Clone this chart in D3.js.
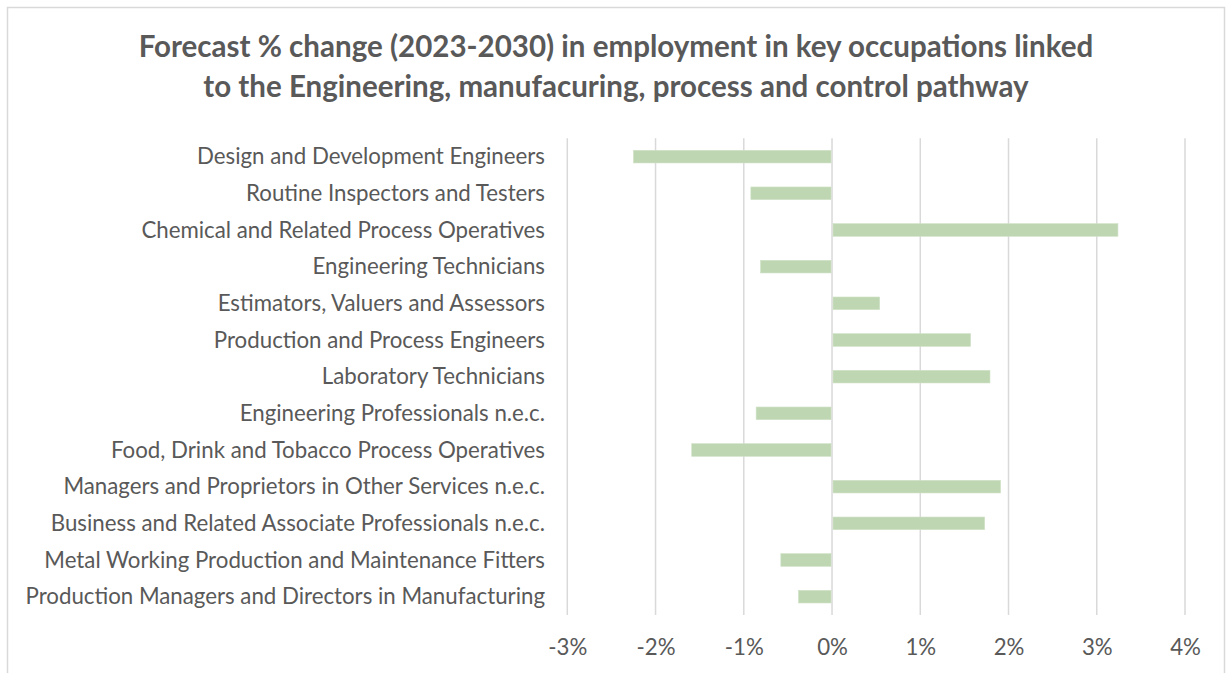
<!DOCTYPE html>
<html>
<head>
<meta charset="utf-8">
<script src="https://cdn.jsdelivr.net/npm/d3@7"></script>
<style>
  html, body { margin: 0; padding: 0; background: #ffffff; }
  svg { display: block; font-family: Lato, "Open Sans", sans-serif; }
</style>
</head>
<body>
<svg id="chart" width="1226" height="673"></svg>
<script>
const titleLines = [
  "Forecast % change (2023-2030) in employment in key occupations linked",
  "to the Engineering, manufacuring, process and control pathway"
];
const categories = [
  "Design and Development Engineers",
  "Routine Inspectors and Testers",
  "Chemical and Related Process Operatives",
  "Engineering Technicians",
  "Estimators, Valuers and Assessors",
  "Production and Process Engineers",
  "Laboratory Technicians",
  "Engineering Professionals n.e.c.",
  "Food, Drink and Tobacco Process Operatives",
  "Managers and Proprietors in Other Services n.e.c.",
  "Business and Related Associate Professionals n.e.c.",
  "Metal Working Production and Maintenance Fitters",
  "Production Managers and Directors in Manufacturing"
];
const values = [-2.25, -0.92, 3.24, -0.81, 0.54, 1.57, 1.79, -0.86, -1.59, 1.91, 1.73, -0.58, -0.38];
const tickValues = [-3, -2, -1, 0, 1, 2, 3, 4];

const svg = d3.select("#chart");
const textColor = "#595959";
const gridColor = "#d9d9d9";
const barColor = "#bfd6b3";

// chart border
svg.append("rect")
  .attr("x", 7.5).attr("y", 7.5)
  .attr("width", 1217).attr("height", 700)
  .attr("fill", "#ffffff")
  .attr("stroke", gridColor).attr("stroke-width", 1.5);

const plot = { left: 567.3, right: 1185, top: 138.3, bottom: 615 };

const x = d3.scaleLinear().domain([-3, 4]).range([plot.left, plot.right]);
const y = d3.scaleBand().domain(categories).range([plot.top, plot.bottom])
  .paddingInner(0.655).paddingOuter(0.3275);

// gridlines
svg.append("g").selectAll("line").data(tickValues).join("line")
  .attr("x1", d => x(d)).attr("x2", d => x(d))
  .attr("y1", plot.top).attr("y2", plot.bottom)
  .attr("stroke", gridColor).attr("stroke-width", 1.5);

// bars
const data = categories.map((c, i) => ({ c, v: values[i] }));
svg.append("g").selectAll("rect").data(data).join("rect")
  .attr("x", d => d.v >= 0 ? x(0) + 1 : x(d.v))
  .attr("width", d => Math.max(0, Math.abs(x(d.v) - x(0)) - 1))
  .attr("y", d => y(d.c))
  .attr("height", y.bandwidth())
  .attr("fill", barColor)
  .attr("stroke", "#cfe2c6").attr("stroke-width", 0.6);

// x axis labels
const xAxis = d3.axisBottom(x).tickValues(tickValues)
  .tickFormat(d => d + "%").tickSize(0).tickPadding(0);
const gx = svg.append("g").attr("transform", `translate(0,${plot.bottom})`).call(xAxis);
gx.select(".domain").remove();
gx.selectAll("text")
  .attr("y", 40).attr("dy", 0)
  .attr("fill", textColor)
  .style("font-family", "Lato, sans-serif")
  .style("font-size", "19px");

// y axis labels
const yAxis = d3.axisLeft(y).tickSize(0).tickPadding(0);
const gy = svg.append("g").attr("transform", `translate(545,0)`).call(yAxis);
gy.select(".domain").remove();
gy.selectAll("text")
  .attr("x", 0).attr("dy", "0.35em")
  .attr("fill", textColor)
  .style("font-family", "Lato, sans-serif")
  .style("font-size", "19px");

// fit category label size so the longest spans ~520px
let maxW = 0;
gy.selectAll("text").each(function() { maxW = Math.max(maxW, this.getComputedTextLength()); });
const fs = 19 * 520 / maxW;
gy.selectAll("text").style("font-size", fs + "px");
gx.selectAll("text").style("font-size", fs + "px");

// title
const title = svg.append("g");
const tl = title.selectAll("text").data(titleLines).join("text")
  .attr("x", 616).attr("y", (d, i) => 57 + i * 40)
  .attr("text-anchor", "middle")
  .attr("fill", textColor)
  .style("font-family", "Lato, sans-serif")
  .style("font-weight", "bold")
  .style("font-size", "27px")
  .text(d => d);
const w0 = tl.nodes()[0].getComputedTextLength();
tl.style("font-size", (27 * 955 / w0) + "px");
</script>
</body>
</html>
